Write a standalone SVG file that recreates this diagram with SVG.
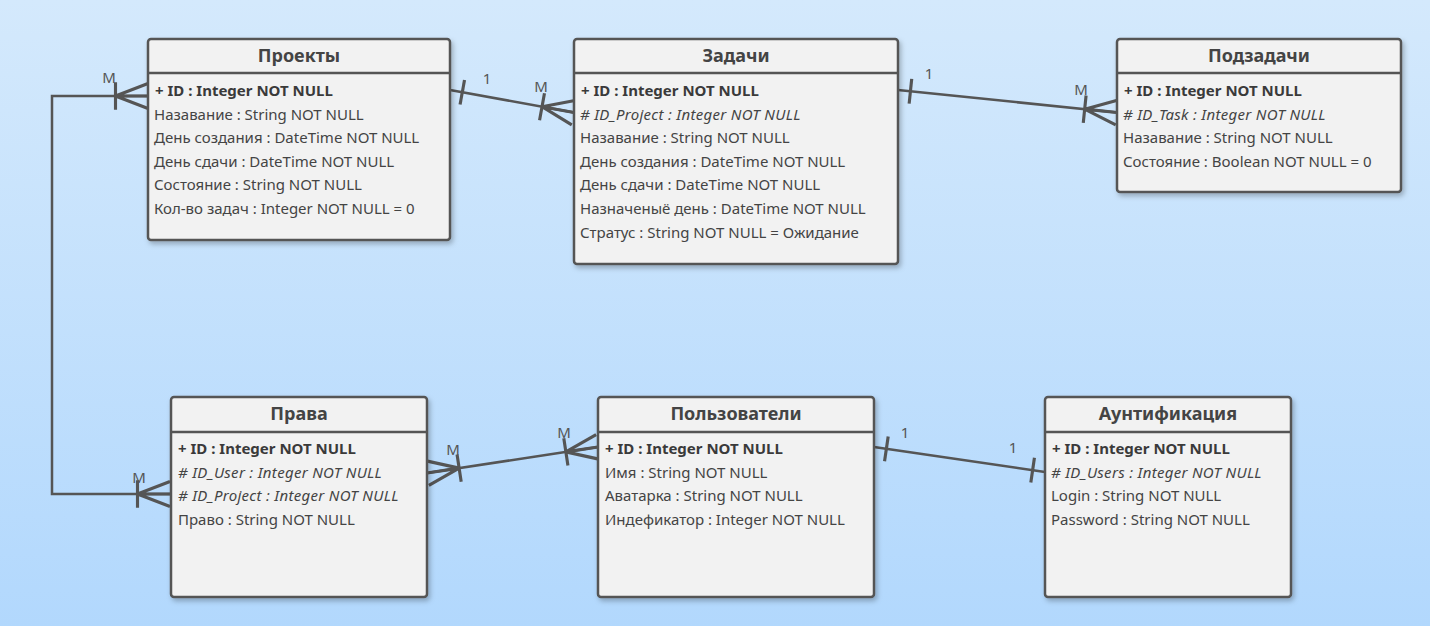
<svg xmlns="http://www.w3.org/2000/svg" width="1430" height="626" viewBox="0 0 1430 626">
<defs>
  <linearGradient id="bg" x1="0" y1="0" x2="0" y2="1">
    <stop offset="0" stop-color="#d4e9fc"/>
    <stop offset="1" stop-color="#b2d8fd"/>
  </linearGradient>
  <filter id="sh" x="-5%" y="-5%" width="115%" height="115%">
    <feDropShadow dx="2" dy="3" stdDeviation="2.5" flood-color="#000" flood-opacity="0.25"/>
  </filter>
  <marker id="many" markerUnits="userSpaceOnUse" markerWidth="40" markerHeight="40" viewBox="-30 -15 32 30" refX="0" refY="0" orient="auto-start-reverse" overflow="visible">
    <path d="M-26,0 L0,-10 M-26,0 L0,0 M-26,0 L0,10 M-26,-11 L-26,11" fill="none" stroke="#555" stroke-width="2.5"/>
  </marker>
  <marker id="one" markerUnits="userSpaceOnUse" markerWidth="40" markerHeight="40" viewBox="-30 -15 32 30" refX="0" refY="0" orient="auto-start-reverse" overflow="visible">
    <path d="M-10,-10 L-10,10" fill="none" stroke="#555" stroke-width="2.5"/>
  </marker>
</defs>
<style>
  .box { fill: #f2f2f2; stroke: #555; stroke-width: 2.5; }
  .div { stroke: #555; stroke-width: 2.5; }
  .title { font-family: "Noto Sans", "Open Sans", sans-serif; font-size: 18px; font-weight: bold; fill: #444; text-anchor: middle; }
  .attr { font-family: "Noto Sans", "Open Sans", sans-serif; font-size: 15px; fill: #444; }
  .pk { font-weight: bold; fill: #3a3a3a; }
  .fk { font-style: italic; letter-spacing: 0.3px; }
  .conn { fill: none; stroke: #555; stroke-width: 2.5; }
  .lbl { font-family: "Noto Sans", "Open Sans", sans-serif; font-size: 15px; fill: #555; text-anchor: middle; }
</style>
<rect x="0" y="0" width="1430" height="626" fill="url(#bg)"/>

<g id="connectors">
  <path class="conn" d="M148,96 L52,96 L52,494 L170,494" marker-start="url(#many)" marker-end="url(#many)"/>
  <path class="conn" d="M450,90 L574,112.5" marker-start="url(#one)" marker-end="url(#many)"/>
  <path class="conn" d="M898,90 L1117,112.5" marker-start="url(#one)" marker-end="url(#many)"/>
  <path class="conn" d="M427,473 L598,447" marker-start="url(#many)" marker-end="url(#many)"/>
  <path class="conn" d="M874,447 L1045,472" marker-start="url(#one)" marker-end="url(#one)"/>
  <text class="lbl" x="109" y="83">M</text>
  <text class="lbl" x="139" y="483">M</text>
  <text class="lbl" x="487" y="84">1</text>
  <text class="lbl" x="541" y="92">M</text>
  <text class="lbl" x="929" y="79">1</text>
  <text class="lbl" x="1081" y="95">M</text>
  <text class="lbl" x="453" y="455">M</text>
  <text class="lbl" x="564" y="438">M</text>
  <text class="lbl" x="905" y="438">1</text>
  <text class="lbl" x="1013" y="453">1</text>
</g>

<g id="node-projects">
  <rect class="box" x="148" y="39" width="302" height="201" rx="3" filter="url(#sh)"/>
  <line class="div" x1="148" y1="73" x2="450" y2="73"/>
  <text class="title" x="299" y="62">Проекты</text>
  <text class="attr pk" x="155" y="96">+ ID : Integer NOT NULL</text>
  <text class="attr" x="154" y="119.6">Назавание : String NOT NULL</text>
  <text class="attr" x="154" y="143.2">День создания : DateTime NOT NULL</text>
  <text class="attr" x="154" y="166.8">День сдачи : DateTime NOT NULL</text>
  <text class="attr" x="154" y="190.4">Состояние : String NOT NULL</text>
  <text class="attr" x="154" y="214">Кол-во задач : Integer NOT NULL = 0</text>
</g>

<g id="node-tasks">
  <rect class="box" x="574" y="39" width="324" height="225" rx="3" filter="url(#sh)"/>
  <line class="div" x1="574" y1="73" x2="898" y2="73"/>
  <text class="title" x="736" y="62">Задачи</text>
  <text class="attr pk" x="581" y="96">+ ID : Integer NOT NULL</text>
  <text class="attr fk" x="580" y="119.6"># ID_Project : Integer NOT NULL</text>
  <text class="attr" x="580" y="143.2">Назавание : String NOT NULL</text>
  <text class="attr" x="580" y="166.8">День создания : DateTime NOT NULL</text>
  <text class="attr" x="580" y="190.4">День сдачи : DateTime NOT NULL</text>
  <text class="attr" x="580" y="214">Назначеныё день : DateTime NOT NULL</text>
  <text class="attr" x="580" y="237.6">Стратус : String NOT NULL = Ожидание</text>
</g>

<g id="node-subtasks">
  <rect class="box" x="1117" y="39" width="284" height="153" rx="3" filter="url(#sh)"/>
  <line class="div" x1="1117" y1="73" x2="1401" y2="73"/>
  <text class="title" x="1259" y="62">Подзадачи</text>
  <text class="attr pk" x="1124" y="96">+ ID : Integer NOT NULL</text>
  <text class="attr fk" x="1123" y="119.6"># ID_Task : Integer NOT NULL</text>
  <text class="attr" x="1123" y="143.2">Назавание : String NOT NULL</text>
  <text class="attr" x="1123" y="166.8">Состояние : Boolean NOT NULL = 0</text>
</g>

<g id="node-rights">
  <rect class="box" x="171" y="397" width="256" height="200" rx="3" filter="url(#sh)"/>
  <line class="div" x1="171" y1="432" x2="427" y2="432"/>
  <text class="title" x="299" y="420">Права</text>
  <text class="attr pk" x="178" y="454">+ ID : Integer NOT NULL</text>
  <text class="attr fk" x="178" y="477.6"># ID_User : Integer NOT NULL</text>
  <text class="attr fk" x="178" y="501.2"># ID_Project : Integer NOT NULL</text>
  <text class="attr" x="178" y="524.8">Право : String NOT NULL</text>
</g>

<g id="node-users">
  <rect class="box" x="598" y="397" width="276" height="200" rx="3" filter="url(#sh)"/>
  <line class="div" x1="598" y1="432" x2="874" y2="432"/>
  <text class="title" x="736" y="420">Пользователи</text>
  <text class="attr pk" x="605" y="454">+ ID : Integer NOT NULL</text>
  <text class="attr" x="605" y="477.6">Имя : String NOT NULL</text>
  <text class="attr" x="605" y="501.2">Аватарка : String NOT NULL</text>
  <text class="attr" x="605" y="524.8">Индефикатор : Integer NOT NULL</text>
</g>

<g id="node-auth">
  <rect class="box" x="1045" y="397" width="246" height="200" rx="3" filter="url(#sh)"/>
  <line class="div" x1="1045" y1="432" x2="1291" y2="432"/>
  <text class="title" x="1168" y="420">Аунтификация</text>
  <text class="attr pk" x="1052" y="454">+ ID : Integer NOT NULL</text>
  <text class="attr fk" x="1051" y="477.6"># ID_Users : Integer NOT NULL</text>
  <text class="attr" x="1051" y="501.2">Login : String NOT NULL</text>
  <text class="attr" x="1051" y="524.8">Password : String NOT NULL</text>
</g>
</svg>
